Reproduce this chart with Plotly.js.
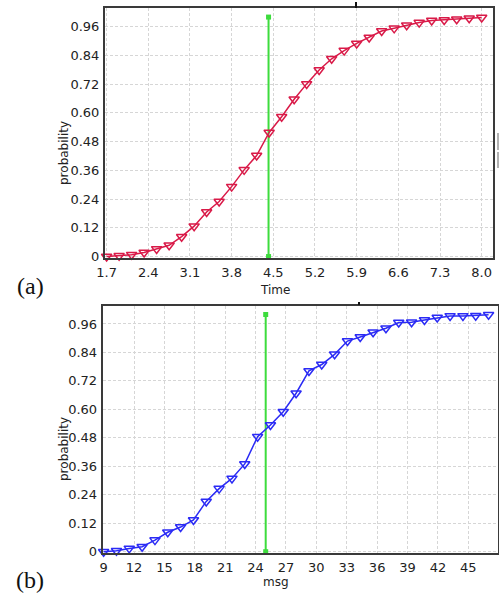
<!DOCTYPE html>
<html>
<head>
<meta charset="utf-8">
<script src="https://cdn.plot.ly/plotly-3.0.1.min.js"></script>
<style>html,body{margin:0;padding:0;background:#fff;}#chart{width:499px;height:599px;}</style>
</head>
<body>
<div id="chart"></div>
<script>
// ---- data ----
const timeX = [1.7,1.91,2.12,2.33,2.54,2.75,2.96,3.17,3.38,3.59,3.8,4.01,4.22,4.43,4.64,4.85,5.06,5.27,5.48,5.69,5.9,6.11,6.32,6.53,6.74,6.95,7.16,7.37,7.58,7.79,8.0];
const timeP = [0.0,0.003,0.008,0.017,0.032,0.047,0.083,0.127,0.186,0.23,0.292,0.362,0.422,0.518,0.584,0.657,0.721,0.779,0.826,0.860,0.890,0.915,0.942,0.953,0.966,0.977,0.986,0.988,0.991,0.995,0.998];
const msgX = [9,10.27,11.53,12.8,14.07,15.33,16.6,17.87,19.13,20.4,21.67,22.93,24.2,25.47,26.73,28,29.27,30.53,31.8,33.07,34.33,35.6,36.87,38.13,39.4,40.67,41.93,43.2,44.47,45.73,47];
const msgP = [0.0,0.004,0.014,0.021,0.049,0.082,0.104,0.134,0.212,0.266,0.309,0.370,0.485,0.534,0.590,0.668,0.762,0.789,0.832,0.888,0.905,0.925,0.942,0.966,0.967,0.977,0.987,0.994,0.994,0.995,0.999];
const timeMarkX = [4.42, 4.42];
const msgMarkX = [25, 25];
const markY = [0, 1];
const yTickVals = [0,0.12,0.24,0.36,0.48,0.60,0.72,0.84,0.96];
const yTickText = ['0','0.12','0.24','0.36','0.48','0.60','0.72','0.84','0.96'];
const timeTickVals = [1.7,2.4,3.1,3.8,4.5,5.2,5.9,6.6,7.3,8.0];
const timeTickText = ['1.7','2.4','3.1','3.8','4.5','5.2','5.9','6.6','7.3','8.0'];
const msgTickVals = [9,12,15,18,21,24,27,30,33,36,39,42,45];
const msgTickText = ['9','12','15','18','21','24','27','30','33','36','39','42','45'];

// ---- layout helpers ----
const W = 499, H = 599;
const px = x => x / W;
const py = y => 1 - y / H;
const tickFont = {family: 'DejaVu Sans, sans-serif', size: 13, color: '#222'};
const titleFont = {family: 'DejaVu Sans, sans-serif', size: 12, color: '#222'};
const labelFont = {family: 'Liberation Serif, DejaVu Serif, serif', size: 24, color: '#111'};

const red = '#d91a48', blue = '#2b2bf5', green = '#3ddc3d';

function curve(x, y, color, xa, ya) {
  return {x: x, y: y, xaxis: xa, yaxis: ya, type: 'scatter', mode: 'lines+markers',
    cliponaxis: false,
    line: {color: color, width: 1.5},
    marker: {symbol: 'triangle-down-open', size: 9, color: color, line: {color: color, width: 1.5}},
    hoverinfo: 'skip'};
}
function mark(x, xa, ya) {
  return {x: x, y: markY, xaxis: xa, yaxis: ya, type: 'scatter', mode: 'lines+markers',
    cliponaxis: false,
    line: {color: green, width: 2},
    marker: {symbol: 'square', size: 5, color: green},
    hoverinfo: 'skip'};
}

const data = [
  mark(timeMarkX, 'x', 'y'),
  curve(timeX, timeP, red, 'x', 'y'),
  mark(msgMarkX, 'x2', 'y2'),
  curve(msgX, msgP, blue, 'x2', 'y2')
];

function xAxis(domain, range, vals, text, anchor) {
  return {domain: domain, range: range, anchor: anchor, tickvals: vals, ticktext: text,
    showgrid: true, gridcolor: '#d6d6d6', griddash: '3px,2px', gridwidth: 1,
    zeroline: false, showline: true, mirror: true, linecolor: '#3a3a3a', linewidth: 2,
    ticks: '', ticklabelstandoff: 1, tickfont: tickFont, fixedrange: true};
}
function yAxis(domain, range, anchor) {
  return {domain: domain, range: range, anchor: anchor, tickvals: yTickVals, ticktext: yTickText,
    showgrid: true, gridcolor: '#d6d6d6', griddash: '3px,2px', gridwidth: 1,
    zeroline: false, showline: true, mirror: true, linecolor: '#3a3a3a', linewidth: 2,
    ticks: '', ticklabelstandoff: 1, tickfont: tickFont, fixedrange: true};
}

const layout = {
  width: W, height: H,
  margin: {l: 0, r: 0, t: 0, b: 0, pad: 0},
  paper_bgcolor: '#fff', plot_bgcolor: '#fff',
  showlegend: false,
  xaxis: xAxis([px(105), px(493)], [1.673, 8.19], timeTickVals, timeTickText, 'y'),
  yaxis: yAxis([py(258), py(7.5)], [-0.006, 1.04], 'x'),
  xaxis2: xAxis([px(102.7), px(498.3)], [8.91, 47.96], msgTickVals, msgTickText, 'y2'),
  yaxis2: yAxis([py(553.3), py(305.7)], [-0.0067, 1.037], 'x2'),
  annotations: [
    {text: 'probability', x: px(64), y: py(153), xref: 'paper', yref: 'paper', textangle: -90, showarrow: false, font: titleFont, xanchor: 'center', yanchor: 'middle'},
    {text: 'probability', x: px(64), y: py(449), xref: 'paper', yref: 'paper', textangle: -90, showarrow: false, font: titleFont, xanchor: 'center', yanchor: 'middle'},
    {text: 'Time', x: px(275), y: py(290), xref: 'paper', yref: 'paper', showarrow: false, font: titleFont, xanchor: 'center', yanchor: 'middle'},
    {text: 'msg', x: px(276), y: py(582), xref: 'paper', yref: 'paper', showarrow: false, font: titleFont, xanchor: 'center', yanchor: 'middle'},
    {text: '(a)', x: px(30), y: py(286), xref: 'paper', yref: 'paper', showarrow: false, font: labelFont, xanchor: 'center', yanchor: 'middle'},
    {text: '(b)', x: px(30), y: py(580), xref: 'paper', yref: 'paper', showarrow: false, font: labelFont, xanchor: 'center', yanchor: 'middle'}
  ],
  shapes: [
    {type: 'line', xref: 'paper', yref: 'paper', x0: px(356), x1: px(356), y0: py(2), y1: py(8), line: {color: '#111', width: 2}},
    {type: 'line', xref: 'paper', yref: 'paper', x0: px(359), x1: px(359), y0: py(302), y1: py(305), line: {color: '#111', width: 2}},
    {type: 'line', xref: 'paper', yref: 'paper', x0: px(498), x1: px(498), y0: py(133), y1: py(150), line: {color: '#999', width: 1.5}},
    {type: 'line', xref: 'paper', yref: 'paper', x0: px(498), x1: px(498), y0: py(152), y1: py(168), line: {color: '#999', width: 1.5}}
  ]
};

Plotly.newPlot('chart', data, layout, {staticPlot: true, displayModeBar: false});
</script>
</body>
</html>
